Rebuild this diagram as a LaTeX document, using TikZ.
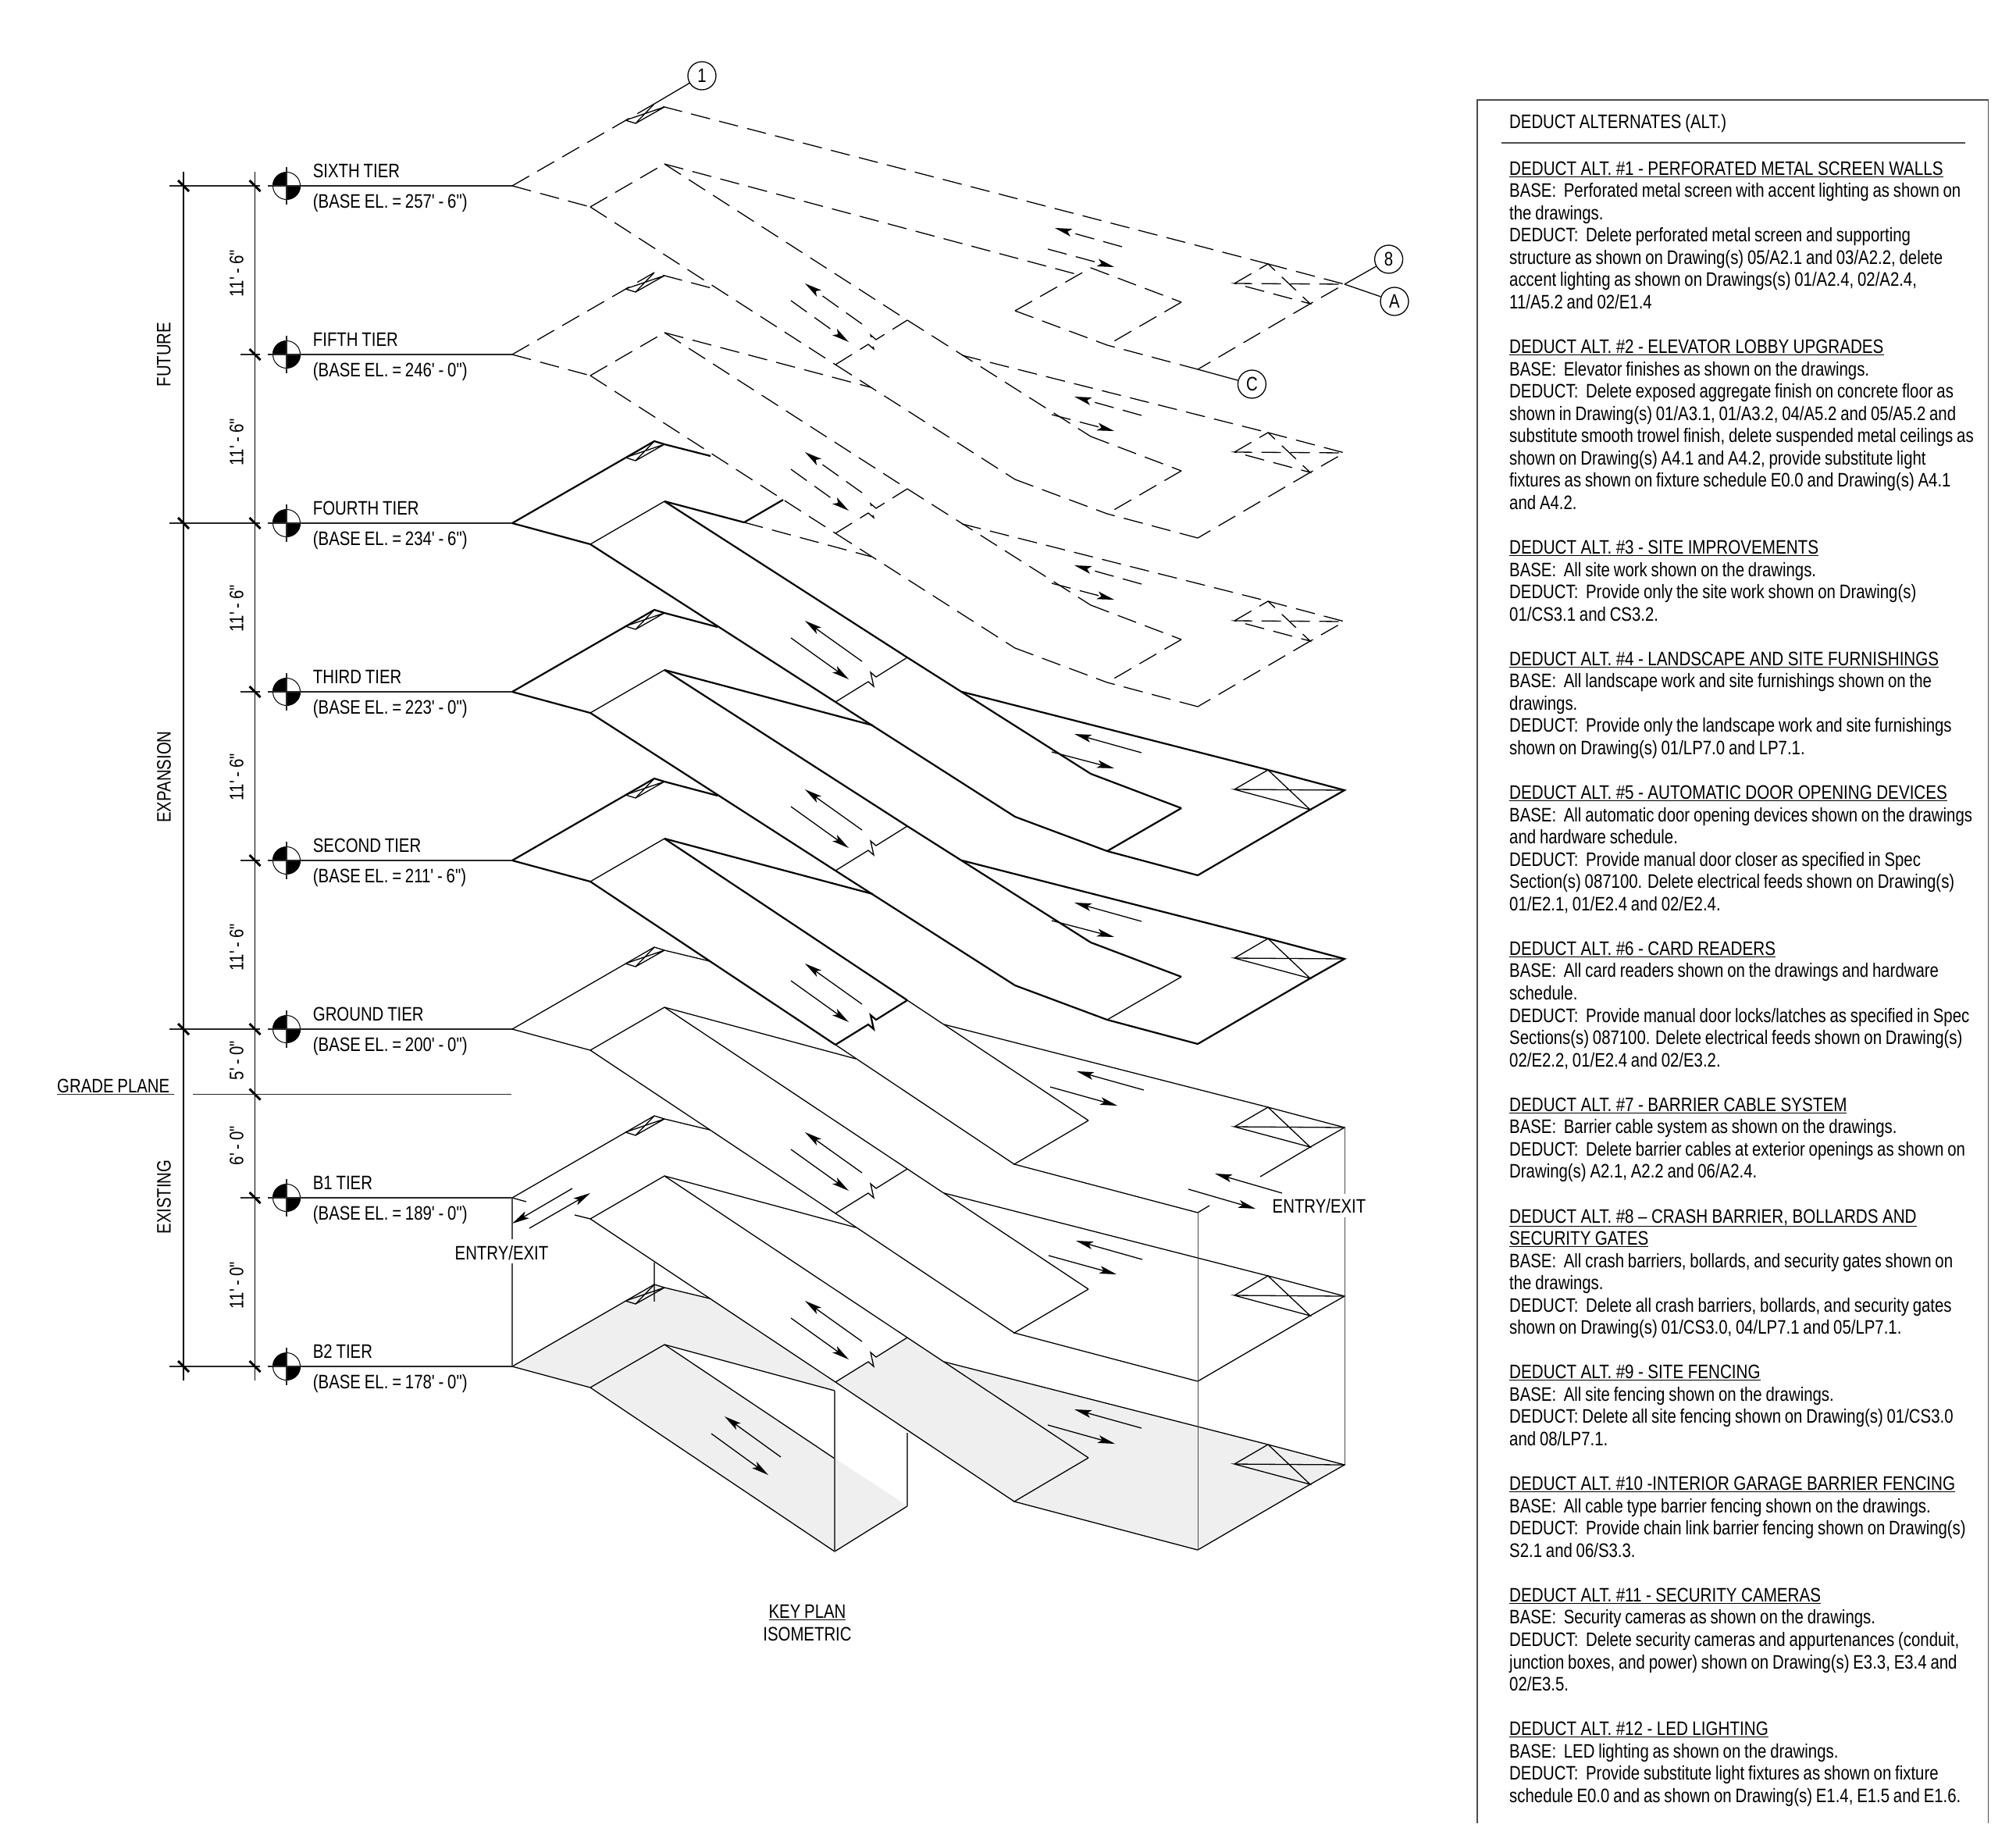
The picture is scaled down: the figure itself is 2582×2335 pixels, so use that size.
\documentclass[tikz,border=0pt]{standalone}
\usepackage{fontspec}
\setmainfont[FakeStretch=0.815,WordSpace=0.85,Ligatures=TeXOff]{Liberation Sans}
\newfontfamily\headfont[FakeStretch=0.825,WordSpace=0.95,Ligatures=TeXOff]{Liberation Sans}
\usepackage{tikz}
\usetikzlibrary{arrows.meta, calc}
\definecolor{slabgray}{RGB}{239, 239, 239}

\tikzset{
  heavyline/.style={line width=2.2pt, black},
  thinline/.style={line width=1.3pt, black},
  columnline/.style={line width=1.3pt, black!70},
  levelline/.style={line width=1.1pt, black!85},
  dashthin/.style={line width=1.3pt, black, dash pattern=on 25pt off 12pt},
  flowtip/.style={-{Stealth[length=22pt, width=10pt, inset=5pt]}},
  % line sets of one tier
  dashtier/.style={edge/.style=dashthin, hair/.style=dashthin, crack/.style=dashthin, lower/.style=dashthin, flow/.style={dashthin, flowtip}},
  boldtier/.style={edge/.style=heavyline, hair/.style=thinline, crack/.style=thinline, lower/.style=heavyline, flow/.style={thinline, flowtip}},
  thintier/.style={edge/.style=thinline, hair/.style=thinline, crack/.style=thinline, lower/.style=thinline, flow/.style={thinline, flowtip}},
  tierlabel/.style={inner sep=0pt, anchor=base west, font=\tfont},
  dimtext/.style={inner sep=0pt, rotate=90, font=\tfont},
  bubble/.style={draw, thinline, circle, minimum size=36pt, inner sep=0pt, font=\tfont},
  levelmark/.style={draw, line width=1pt, circle, minimum size=35pt, inner sep=0pt},
  dimtick/.style={line width=3pt, black},
  panelbody/.style={inner sep=0pt, anchor=north west, align=left, font=\pfont}
}
\newcommand{\tfont}{\fontsize{25}{29}\selectfont}
\newcommand{\pfont}{\fontsize{25}{28.55}\selectfont}
\newcommand{\altname}[1]{\underline{\headfont #1}}

% corners of one tier, from its apex
\newcommand{\tierpoints}{
  \coordinate (apex) at (0,0);
  \coordinate (toe) at (100,27);
  \coordinate (crest) at (195,-28);
  \coordinate (liftT) at (182,-105);
  \coordinate (liftR) at (195,-101);
  \coordinate (liftL) at (145,-84);
  \coordinate (liftB) at (158,-80);
  \coordinate (corner) at (878,235);
  \coordinate (diaL) at (925,125);
  \coordinate (diaT) at (968,100);
  \coordinate (diaB) at (1022,151);
  \coordinate (diaR) at (1066,126);
  \coordinate (slabQ) at (741,105);
  \coordinate (slabR) at (857,149);
  \coordinate (slabS) at (762,204);
  \coordinate (slabP) at (644,160);
}
\newcommand{\tierfront}[2]{
  \draw[edge] (apex) -- (liftT) -- (liftR) -- (#1);
  \draw[thinline] (liftL) -- (liftB) -- (liftR) -- (liftL);
  \draw[thinline] (liftT) -- (liftB);
  \draw[hair] (toe) -- (crest);
  \draw[edge] (crest) -- (#2);
}
\newcommand{\tierdiamond}{
  \draw[edge] (diaT) -- (diaR) -- (diaB);
  \draw[hair] (diaL) -- (diaT) -- (diaB) -- (diaL) -- (diaR);
}
\newcommand{\tierslab}{
  \draw[edge] (slabQ) -- (slabR);
  \draw[hair] (slabR) -- (slabS);
  \draw[edge] (slabP) -- (slabS) -- (corner);
  \draw[edge] (diaB) -- (corner);
}
\newcommand{\tierramp}[3]{
  \coordinate (brkA) at (414,229+#1);
  \coordinate (brkB) at (506,172+#1);
  \draw[edge] (toe) -- (brkA);
  \draw[edge] (crest) -- (brkB);
  \draw[crack] (brkA) -- (456,203+#1) -- (463,209+#1) -- (459,191+#1) -- (466,197+#1) -- (brkB);
  \draw[lower] (brkA) -- (#3);
  \draw[lower] (brkB) -- (#2);
  \draw[flow] (448,177+#1) -- (375,125+#1);
  \draw[flow] (357,147+#1) -- (431,200+#1);
}
\newcommand{\twoway}[4]{
  \draw[flow] (#1) -- (#2);
  \draw[flow] (#3) -- (#4);
}

\begin{document}
\begin{tikzpicture}[x=1pt, y=-1pt]
  \useasboundingbox (0,0) rectangle (2582,2335);

  % Gray floor of the lowest tier
  \begin{scope}[shift={(656,1749.5)}]
    \fill[slabgray] (0,0) -- (182,-105) -- (195,-101) -- (253,-87) -- (413,21) -- (413,31) -- (195,-28) -- (100,27) -- cycle;
    \fill[slabgray] (100,27) -- (195,-28) -- (413,118) -- (506,179) -- (413,237) -- cycle;
    \fill[slabgray] (413,21) -- (506,-36) -- (553,-6) -- (968,100) -- (1066,126) -- (878,236) -- (643,173) -- cycle;
  \end{scope}

  % Dimension strings
  \draw[thinline] (235,220) -- (235,1768);
  \draw[thinline] (326.5,220) -- (326.5,1768);
  \foreach \ty in {238,670,1318,1750} {
    \draw[levelline] (217,\ty) -- (333,\ty);
    \draw[dimtick] (228,\ty-7) -- (242,\ty+7);
  }
  \foreach \ty in {454,886,1102,1534} {
    \draw[levelline] (308,\ty) -- (333,\ty);
  }
  \foreach \ty in {238,454,670,886,1102,1318,1401.5,1534,1750} {
    \draw[dimtick] (319.5,\ty-7) -- (333.5,\ty+7);
  }
  \draw[levelline] (247,1401.5) -- (655,1401.5);

  \node[dimtext] (dimA) at (303,350) {11' - 6"};
  \node[dimtext] (dimB) at (303,566) {11' - 6"};
  \node[dimtext] (dimC) at (303,779) {11' - 6"};
  \node[dimtext] (dimD) at (303,995) {11' - 6"};
  \node[dimtext] (dimE) at (303,1213) {11' - 6"};
  \node[dimtext] (dimF) at (303,1358) {5' - 0"};
  \node[dimtext] (dimG) at (303,1467) {6' - 0"};
  \node[dimtext] (dimH) at (303,1646) {11' - 0"};
  \node[dimtext] (groupA) at (210,454) {FUTURE};
  \node[dimtext] (groupB) at (210,995) {EXPANSION};
  \node[dimtext] (groupC) at (210,1533) {EXISTING};

  \node[tierlabel] (gradeName) at (73,1399) {GRADE PLANE};
  \draw[levelline] (73,1401.5) -- (223,1401.5);

  % Level marks and names
  \foreach \ty/\tname/\tbase [count=\i] in {
    238/SIXTH TIER/{(BASE EL. = 257' - 6")},
    454/FIFTH TIER/{(BASE EL. = 246' - 0")},
    670/FOURTH TIER/{(BASE EL. = 234' - 6")},
    886/THIRD TIER/{(BASE EL. = 223' - 0")},
    1102/SECOND TIER/{(BASE EL. = 211' - 6")},
    1318/GROUND TIER/{(BASE EL. = 200' - 0")},
    1534/B1 TIER/{(BASE EL. = 189' - 0")},
    1750/B2 TIER/{(BASE EL. = 178' - 0")}} {
    \node[levelmark] (mark\i) at (367,\ty) {};
    \fill (mark\i.center) -- (mark\i.west) arc[start angle=180, end angle=90, radius=17.5pt] -- cycle;
    \fill (mark\i.center) -- (mark\i.east) arc[start angle=0, end angle=-90, radius=17.5pt] -- cycle;
    \draw[levelline] (367,\ty-24) -- (367,\ty+24);
    \draw[levelline] (342.7,\ty) -- (656,\ty);
    \node[tierlabel] (name\i) at (400.7,\ty-11) {\tname};
    \node[tierlabel] (base\i) at (400.7,\ty+28) {\tbase};
  }

  % Sixth tier
  \begin{scope}[shift={(656,238)}, dashtier]
    \tierpoints
    \tierfront{diaT}{722,113}
    \draw[edge] (apex) -- (toe);
    \tierdiamond
    \tierslab
    \draw[hair] (slabP) -- (slabQ);
    \tierramp{0}{741,321}{644,376}
    \twoway{781,78}{695,54}{686,81}{771,104}
    \node[bubble] (bubOne) at (243,-141) {1};
    \node[bubble] (bubEight) at (1122.6,94) {8};
    \node[bubble] (bubA) at (1130,148) {A};
    \node[bubble] (bubC) at (947.4,254) {C};
    \draw[thinline] (liftT) -- (bubOne);
    \draw[thinline] (diaR) -- (bubEight);
    \draw[thinline] (diaR) -- (bubA);
    \draw[thinline] (corner) -- (bubC);
  \end{scope}

  % Fifth tier
  \begin{scope}[shift={(656,454)}, dashtier]
    \tierpoints
    \tierfront{263,-83}{459,42}
    \draw[edge] (apex) -- (toe);
    \tierdiamond
    \tierslab
    \draw[edge] (576,1) -- (diaT);
    \tierramp{0}{741,321}{644,376}
    \twoway{806,78}{720,54}{691,77}{771,98}
  \end{scope}

  % Fourth tier
  \begin{scope}[shift={(656,670)}, boldtier]
    \tierpoints
    \tierfront{254,-86}{297,-1}
    \draw[edge] (apex) -- (toe);
    \draw[edge] (297,-1) -- (347,-30);
    \tierramp{0}{741,321}{644,376}
    \begin{scope}[dashtier]
      \draw[edge] (297,-1) -- (460,43);
      \tierdiamond
      \tierslab
      \draw[edge] (576,1) -- (diaT);
      \twoway{806,78}{720,54}{691,77}{771,98}
    \end{scope}
  \end{scope}

  % Third tier
  \begin{scope}[shift={(656,886)}, boldtier]
    \tierpoints
    \tierfront{263,-83}{462,43}
    \draw[edge] (apex) -- (toe);
    \tierdiamond
    \tierslab
    \draw[edge] (slabR) -- (slabS);
    \draw[edge] (576,0) -- (diaT);
    \tierramp{0}{741,321}{644,376}
    \twoway{806,78}{720,54}{691,77}{771,98}
  \end{scope}

  % Second tier
  \begin{scope}[shift={(656,1102)}, boldtier, crack/.style=heavyline, lower/.style=thinline]
    \tierpoints
    \tierfront{263,-83}{462,43}
    \draw[edge] (apex) -- (toe);
    \tierdiamond
    \tierslab
    \draw[edge] (576,0) -- (diaT);
    \tierramp{7}{738,333}{643,389}
    \twoway{806,78}{720,54}{691,77}{771,98}
  \end{scope}

  % Ground tier
  \begin{scope}[shift={(656,1318)}, thintier]
    \tierpoints
    \tierfront{253,-87}{440,38}
    \draw[edge] (apex) -- (toe);
    \tierdiamond
    \draw[edge] (553,-6) -- (diaT);
    \draw[edge] (diaB) -- (958,189);
    \draw[edge] (738,117) -- (643,173) -- (corner) -- (893,226);
    \tierramp{7}{738,333}{643,389}
    \twoway{809,78}{723,54}{689,74}{775,98}
    \twoway{986,210}{900,185}{866,205}{952,230}
  \end{scope}
  \node[inner sep=0pt, font=\tfont] (exitRight) at (1689.5,1545) {ENTRY/EXIT};

  % B1 tier
  \begin{scope}[shift={(656,1534)}, thintier]
    \tierpoints
    \tierfront{253,-87}{440,38}
    \tierdiamond
    \draw[edge] (apex) -- (18,5);
    \draw[edge] (toe) -- (80,22);
    \draw[edge] (553,-6) -- (diaT);
    \draw[edge] (diaB) -- (corner);
    \draw[edge] (738,117) -- (643,173) -- (corner);
    \draw[columnline] (182,83) -- (182,133);
    \tierramp{7}{738,333}{643,389}
    \twoway{807,79}{722,55}{687,74}{774,98}
    \twoway{77,-12}{0,33}{22,39}{100,-6}
  \end{scope}
  \node[inner sep=0pt, font=\tfont] (exitLeft) at (642.5,1605) {ENTRY/EXIT};

  % B2 tier
  \begin{scope}[shift={(656,1750)}, thintier]
    \tierpoints
    \tierfront{253,-87}{413,31}
    \tierdiamond
    \draw[edge] (apex) -- (toe);
    \draw[edge] (553,-6) -- (diaT);
    \draw[edge] (diaB) -- (corner);
    \draw[edge] (738,117) -- (643,173) -- (corner);
    \draw[edge] (toe) -- (413,237) -- (506,179);
    \draw[edge] (crest) -- (413,118);
    \draw[columnline] (506,179) -- (506,85);
    \draw[columnline] (413,31) -- (413,237);
    \twoway{806,79}{720,55}{686,75}{772,99}
    \twoway{344,116}{272,64}{255,86}{328,139}
  \end{scope}

  % Columns between tiers
  \draw[columnline] (656,1534) -- (656,1587);
  \draw[columnline] (656,1618) -- (656,1750);
  \draw[columnline] (1534.5,1553) -- (1534.5,1985);
  \draw[columnline] (1722.5,1444) -- (1722.5,1529);
  \draw[columnline] (1722.5,1559) -- (1722.5,1876);

  % Key plan title
  \node[inner sep=0pt, font=\tfont] (keyName) at (1034,2065) {\underline{KEY PLAN}};
  \node[inner sep=0pt, font=\tfont] (keyKind) at (1034,2093) {ISOMETRIC};

  % Deduct alternates
  \draw[columnline] (1892,2335) -- (1892,128) -- (2546.5,128) -- (2546.5,2335);
  \draw[columnline] (1922.5,183) -- (2517,183);
  \node[tierlabel] (panelTitle) at (1933,164) {DEDUCT ALTERNATES (ALT.)};
  \node[panelbody] (panelText) at (1933,206.5) {
    \altname{DEDUCT ALT. \#1 - PERFORATED METAL SCREEN WALLS}\\
    BASE:\ \ Perforated metal screen with accent lighting as shown on\\
    the drawings.\\
    DEDUCT:\ \ Delete perforated metal screen and supporting\\
    structure as shown on Drawing(s) 05/A2.1 and 03/A2.2, delete\\
    accent lighting as shown on Drawings(s) 01/A2.4, 02/A2.4,\\
    11/A5.2 and 02/E1.4\\[28.55pt]
    \altname{DEDUCT ALT. \#2 - ELEVATOR LOBBY UPGRADES}\\
    BASE:\ \ Elevator finishes as shown on the drawings.\\
    DEDUCT:\ \ Delete exposed aggregate finish on concrete floor as\\
    shown in Drawing(s) 01/A3.1, 01/A3.2, 04/A5.2 and 05/A5.2 and\\
    substitute smooth trowel finish, delete suspended metal ceilings as\\
    shown on Drawing(s) A4.1 and A4.2, provide substitute light\\
    fixtures as shown on fixture schedule E0.0 and Drawing(s) A4.1\\
    and A4.2.\\[28.55pt]
    \altname{DEDUCT ALT. \#3 - SITE IMPROVEMENTS}\\
    BASE:\ \ All site work shown on the drawings.\\
    DEDUCT:\ \ Provide only the site work shown on Drawing(s)\\
    01/CS3.1 and CS3.2.\\[28.55pt]
    \altname{DEDUCT ALT. \#4 - LANDSCAPE AND SITE FURNISHINGS}\\
    BASE:\ \ All landscape work and site furnishings shown on the\\
    drawings.\\
    DEDUCT:\ \ Provide only the landscape work and site furnishings\\
    shown on Drawing(s) 01/LP7.0 and LP7.1.\\[28.55pt]
    \altname{DEDUCT ALT. \#5 - AUTOMATIC DOOR OPENING DEVICES}\\
    BASE:\ \ All automatic door opening devices shown on the drawings\\
    and hardware schedule.\\
    DEDUCT:\ \ Provide manual door closer as specified in Spec\\
    Section(s) 087100. Delete electrical feeds shown on Drawing(s)\\
    01/E2.1, 01/E2.4 and 02/E2.4.\\[28.55pt]
    \altname{DEDUCT ALT. \#6 - CARD READERS}\\
    BASE:\ \ All card readers shown on the drawings and hardware\\
    schedule.\\
    DEDUCT:\ \ Provide manual door locks/latches as specified in Spec\\
    Sections(s) 087100. Delete electrical feeds shown on Drawing(s)\\
    02/E2.2, 01/E2.4 and 02/E3.2.\\[28.55pt]
    \altname{DEDUCT ALT. \#7 - BARRIER CABLE SYSTEM}\\
    BASE:\ \ Barrier cable system as shown on the drawings.\\
    DEDUCT:\ \ Delete barrier cables at exterior openings as shown on\\
    Drawing(s) A2.1, A2.2 and 06/A2.4.\\[28.55pt]
    \altname{DEDUCT ALT. \#8 – CRASH BARRIER, BOLLARDS AND}\\
    \altname{SECURITY GATES}\\
    BASE:\ \ All crash barriers, bollards, and security gates shown on\\
    the drawings.\\
    DEDUCT:\ \ Delete all crash barriers, bollards, and security gates\\
    shown on Drawing(s) 01/CS3.0, 04/LP7.1 and 05/LP7.1.\\[28.55pt]
    \altname{DEDUCT ALT. \#9 - SITE FENCING}\\
    BASE:\ \ All site fencing shown on the drawings.\\
    DEDUCT: Delete all site fencing shown on Drawing(s) 01/CS3.0\\
    and 08/LP7.1.\\[28.55pt]
    \altname{DEDUCT ALT. \#10 -INTERIOR GARAGE BARRIER FENCING}\\
    BASE:\ \ All cable type barrier fencing shown on the drawings.\\
    DEDUCT:\ \ Provide chain link barrier fencing shown on Drawing(s)\\
    S2.1 and 06/S3.3.\\[28.55pt]
    \altname{DEDUCT ALT. \#11 - SECURITY CAMERAS}\\
    BASE:\ \ Security cameras as shown on the drawings.\\
    DEDUCT:\ \ Delete security cameras and appurtenances (conduit,\\
    junction boxes, and power) shown on Drawing(s) E3.3, E3.4 and\\
    02/E3.5.\\[28.55pt]
    \altname{DEDUCT ALT. \#12 - LED LIGHTING}\\
    BASE:\ \ LED lighting as shown on the drawings.\\
    DEDUCT:\ \ Provide substitute light fixtures as shown on fixture\\
    schedule E0.0 and as shown on Drawing(s) E1.4, E1.5 and E1.6.
  };
\end{tikzpicture}
\end{document}
